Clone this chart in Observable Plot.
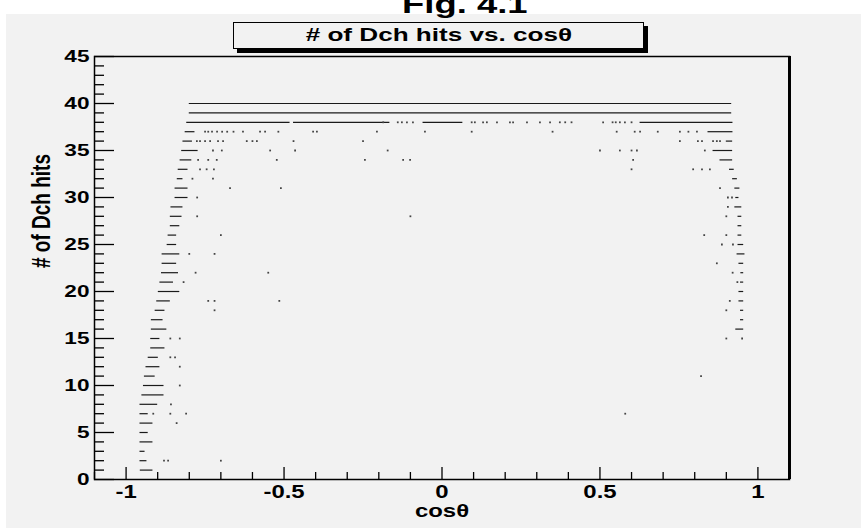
<!DOCTYPE html>
<html><head><meta charset="utf-8">
<script src="https://cdn.jsdelivr.net/npm/d3@7"></script>
<script src="https://cdn.jsdelivr.net/npm/@observablehq/plot@0.6"></script>
<style>
body{margin:0;background:#fff;width:861px;height:528px;overflow:hidden;font-family:"Liberation Sans",Arial,sans-serif;}
#wrap{position:relative;width:861px;height:528px;}
#canvas{position:absolute;left:6px;top:14px;right:0;bottom:0;background:#f2f2f2;}
#chart{position:absolute;left:0;top:0;}
#fig{position:absolute;left:0;width:930px;text-align:center;top:-9px;font-weight:bold;font-size:26px;line-height:26px;color:#000;}
#title{position:absolute;left:233px;top:22px;width:409px;height:25px;border:1px solid #000;box-shadow:4px 4px 0 #000;background:#f2f2f2;text-align:center;font-weight:bold;font-size:18px;line-height:25px;color:#000;}
.sx{display:inline-block;transform-origin:50% 50%;}
</style></head>
<body>
<div id="wrap">
  <div id="canvas"></div>
  <div id="chart"></div>
  <div id="fig"><span class="sx" style="transform:scaleX(1.4)">Fig. 4.1</span></div>
  <div id="title"><span class="sx" style="transform:scaleX(1.45)"># of Dch hits vs. cosθ</span></div>
</div>
<script>
// ---- axes / labels ----
const xDomain = [-1.1, 1.1];
const yDomain = [0, 45];
const xMajor = [-1, -0.5, 0, 0.5, 1];
const xTickLabels = ["-1", "-0.5", "0", "0.5", "1"];
const xMinor = [-1.1,-0.9,-0.8,-0.7,-0.6,-0.4,-0.3,-0.2,-0.1,0.1,0.2,0.3,0.4,0.6,0.7,0.8,0.9,1.1];
const yMajor = [0,5,10,15,20,25,30,35,40,45];
const yMinor = [1,2,3,4,6,7,8,9,11,12,13,14,16,17,18,19,21,22,23,24,26,27,28,29,31,32,33,34,36,37,38,39,41,42,43,44];
const xTitle = "cosθ";
const yTitle = "# of Dch hits";

// ---- dense runs of hits (appear as dashes/lines): y, x start, x end ----
const segY  = [40,39,38,38,38,38,37,37,36,36,35,35,34,34,33,33,32,32,31,31,30,30,29,29,28,28,27,27,26,26,25,25,24,24,23,23,22,22,21,21,20,20,19,19,18,18,17,17,16,16,15,14,13,12,11,10,9,8,7,6,5,4,3,2,1];
const segX1 = [-0.800,-0.800,-0.808,-0.470,-0.060,0.627,-0.813,0.842,-0.820,0.900,-0.824,0.858,-0.829,0.880,-0.835,0.910,-0.838,0.920,-0.845,0.927,-0.845,0.930,-0.858,0.927,-0.860,0.937,-0.860,0.937,-0.867,0.937,-0.870,0.937,-0.886,0.934,-0.886,0.940,-0.888,0.946,-0.893,0.945,-0.898,0.940,-0.903,0.940,-0.908,0.945,-0.920,0.945,-0.920,0.930,-0.922,-0.922,-0.930,-0.937,-0.942,-0.945,-0.950,-0.956,-0.956,-0.956,-0.956,-0.956,-0.956,-0.956,-0.955];
const segX2 = [0.917,0.917,-0.481,-0.165,0.066,0.921,-0.782,0.921,-0.790,0.920,-0.772,0.920,-0.792,0.920,-0.804,0.925,-0.820,0.935,-0.804,0.943,-0.804,0.940,-0.820,0.949,-0.823,0.949,-0.830,0.949,-0.840,0.949,-0.840,0.955,-0.830,0.959,-0.840,0.955,-0.834,0.955,-0.850,0.955,-0.830,0.955,-0.860,0.955,-0.877,0.955,-0.883,0.955,-0.871,0.955,-0.893,-0.877,-0.898,-0.893,-0.908,-0.880,-0.880,-0.900,-0.930,-0.915,-0.930,-0.915,-0.940,-0.934,-0.915];

// ---- isolated hits: one list of cosθ values per number of hits ----
const ptRows = [38,37,36,35,34,33,32,31,30,29,28,26,25,24,23,22,21,19,18,15,13,12,11,10,8,7,6,2];
const ptCos = [
  [-0.186,-0.140,-0.127,-0.111,-0.092,0.094,0.104,0.130,0.142,0.174,0.215,0.225,0.269,0.310,0.342,0.373,0.390,0.410,0.510,0.540,0.550,0.563,0.579,0.600],
  [-0.750,-0.740,-0.728,-0.712,-0.696,-0.680,-0.660,-0.630,-0.576,-0.560,-0.518,-0.408,-0.396,-0.206,-0.054,0.094,0.350,0.553,0.610,0.627,0.683,0.753,0.780,0.807],
  [-0.776,-0.766,-0.750,-0.734,-0.709,-0.693,-0.618,-0.600,-0.586,-0.470,-0.250,0.753,0.810,0.823,0.858,0.870,0.880],
  [-0.725,-0.697,-0.544,-0.465,-0.172,0.500,0.563,0.600,0.617,0.832],
  [-0.772,-0.740,-0.713,-0.523,-0.244,-0.123,-0.101,0.605],
  [-0.766,-0.745,-0.722,0.600,0.795,0.823,0.848],
  [-0.790,-0.725],
  [-0.671,-0.510,0.880],
  [-0.775,0.905,0.918],
  [0.905],
  [-0.775,-0.100,0.900],
  [-0.700,0.830,0.900],
  [0.886,0.921],
  [-0.800,-0.720],
  [0.870],
  [-0.780,-0.550,0.920],
  [-0.818,0.935],
  [-0.740,-0.720,-0.515,0.911],
  [-0.720,0.900],
  [-0.860,-0.830,0.900,0.950],
  [-0.860,-0.845],
  [-0.830],
  [0.820],
  [-0.830],
  [-0.858],
  [-0.914,-0.860,-0.810,0.580],
  [-0.840],
  [-0.880,-0.867,-0.700]
];

const segs = segY.map((y, i) => ({y, x1: segX1[i], x2: segX2[i]}));
const pts = ptRows.flatMap((y, i) => ptCos[i].map(x => ({x, y})));

const font = "'Liberation Sans', Arial, sans-serif";
const plot = Plot.plot({
  width: 861, height: 528,
  marginLeft: 94, marginRight: 72, marginTop: 56, marginBottom: 49,
  x: {domain: xDomain},
  y: {domain: yDomain},
  style: {background: "transparent", fontFamily: font, fontSize: "17px", fontWeight: "bold", color: "#000", overflow: "visible"},
  marks: [
    Plot.ruleY(segs, {y: "y", x1: "x1", x2: "x2", stroke: "#1a1a1a", strokeWidth: 1.2}),
    Plot.dot(pts, {x: "x", y: "y", r: 1, symbol: "square", fill: "#444", stroke: null}),
    Plot.axisY({ticks: yMajor, tickSize: 0, tickPadding: 5, label: null, tickFormat: d => String(d), ariaLabel: "ylab"}),
    Plot.axisY({ticks: yMajor, tickSize: -20, label: null, tickFormat: () => "", strokeWidth: 1.3}),
    Plot.axisY({ticks: yMinor, tickSize: -10, label: null, tickFormat: () => "", strokeWidth: 1.3}),
    Plot.axisX({ticks: xMajor, tickSize: 0, tickPadding: 6, label: null, tickFormat: d => xTickLabels[xMajor.indexOf(d)], fontSize: 18}),
    Plot.axisX({ticks: xMajor, tickSize: -12, label: null, tickFormat: () => "", strokeWidth: 1.3}),
    Plot.axisX({ticks: xMinor, tickSize: -7, label: null, tickFormat: () => "", strokeWidth: 1.3}),
    Plot.frame({stroke: "#000", strokeWidth: 1.5}),
    Plot.ruleX([xDomain[1]], {stroke: "#000", strokeWidth: 3}),
    Plot.text([yTitle], {text: d => d, frameAnchor: "left", dx: -53, rotate: -90, fontSize: 19, fontWeight: "bold"}),
    Plot.text([xTitle], {text: d => d, frameAnchor: "bottom", dy: 37, fontSize: 18, fontWeight: "bold"})
  ]
});
document.getElementById("chart").appendChild(plot);

// the reference's lettering is widened horizontally; widen each text about its anchor
plot.querySelectorAll("text").forEach(t => {
  if (!t.textContent) return;
  const X = parseFloat(t.getAttribute("x")) || 0;
  const T = t.getAttribute("transform") || "";
  const rotated = /rotate/.test(T);
  const s = rotated ? "scale(1,1.35)" : "scale(1.33,1)";
  t.setAttribute("transform", `${T} translate(${X},0) ${s} translate(${-X},0)`);
});
</script>
</body></html>
